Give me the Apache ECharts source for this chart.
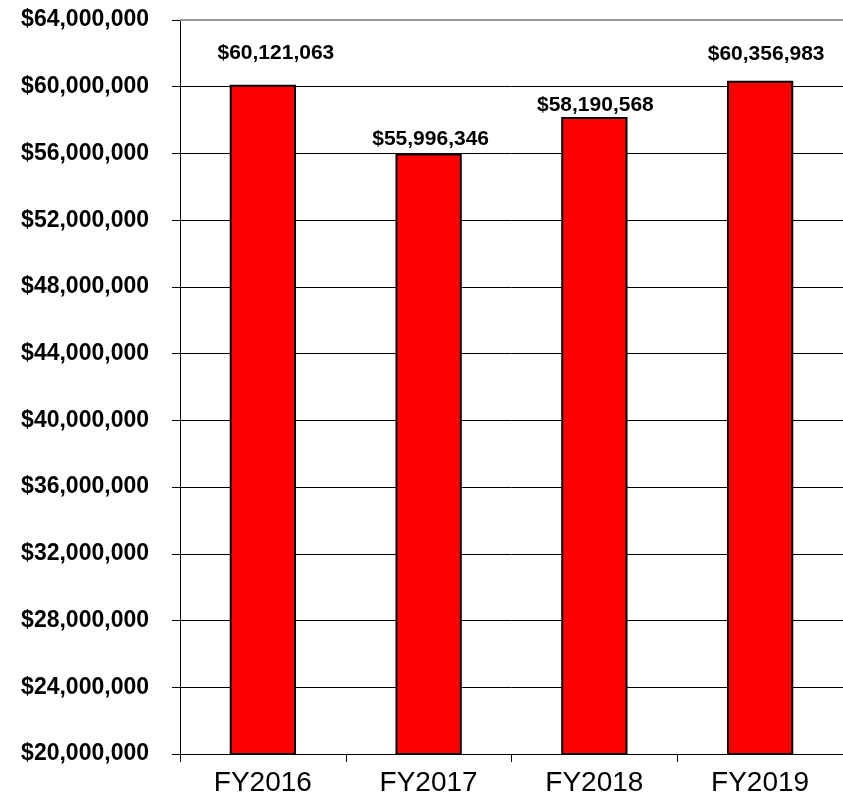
<!DOCTYPE html>
<html>
<head>
<meta charset="utf-8">
<script src="https://cdn.jsdelivr.net/npm/echarts@6/dist/echarts.min.js"></script>
<style>
  html, body { margin: 0; padding: 0; background: #fff; }
  #chart { width: 843px; height: 802px; }
</style>
</head>
<body>
<div id="chart"></div>
<script>
// Fiscal years and yearly totals
const categories = ['FY2016', 'FY2017', 'FY2018', 'FY2019'];
const totals = [60121063, 55996346, 58190568, 60356983];

// Value axis range (dollars)
const axisMin = 20000000;
const axisMax = 64000000;
const axisStep = 4000000;

// Per-bar placement of the value labels [dx, dy]
const labelShift = [[13, -15], [2, 2], [1, 5], [6, -10]];

function money(v) {
  return '$' + Math.round(v).toLocaleString('en-US');
}

const chart = echarts.init(document.getElementById('chart'), null, { renderer: 'canvas' });

chart.setOption({
  animation: false,
  backgroundColor: '#fff',
  grid: { left: 180, right: 0, top: 20, bottom: 48, containLabel: false },
  xAxis: {
    type: 'category',
    data: categories,
    axisLine: { show: true, lineStyle: { color: '#000', width: 1 } },
    axisTick: { show: true, alignWithLabel: false, length: 8, lineStyle: { color: '#000' } },
    axisLabel: {
      margin: 15,
      color: '#000',
      fontFamily: 'Liberation Sans, Arial, sans-serif',
      fontSize: 28
    },
    splitLine: { show: false }
  },
  yAxis: {
    type: 'value',
    min: axisMin,
    max: axisMax,
    interval: axisStep,
    axisLine: { show: true, lineStyle: { color: '#000', width: 1 } },
    axisTick: { show: true, length: 8, lineStyle: { color: '#000' } },
    axisLabel: {
      margin: 31,
      color: '#000',
      fontFamily: 'Liberation Sans, Arial, sans-serif',
      fontWeight: 'bold',
      fontSize: 23,
      formatter: money
    },
    splitLine: { show: true, lineStyle: { color: '#000', width: 1 } }
  },
  series: [{
    type: 'bar',
    barWidth: '40%',
    data: totals.map((v, i) => ({
      value: v,
      label: { offset: labelShift[i] }
    })),
    itemStyle: { color: '#ff0000', borderColor: '#000', borderWidth: 2 },
    label: {
      show: true,
      position: 'top',
      distance: 6,
      color: '#000',
      fontFamily: 'Liberation Sans, Arial, sans-serif',
      fontWeight: 'bold',
      fontSize: 21,
      formatter: p => money(p.value)
    },
    // grey border along the top of the plot
    markLine: {
      silent: true,
      symbol: 'none',
      label: { show: false },
      lineStyle: { color: '#9a9a9a', width: 2, type: 'solid' },
      data: [{ yAxis: axisMax }]
    }
  }]
});
</script>
</body>
</html>
